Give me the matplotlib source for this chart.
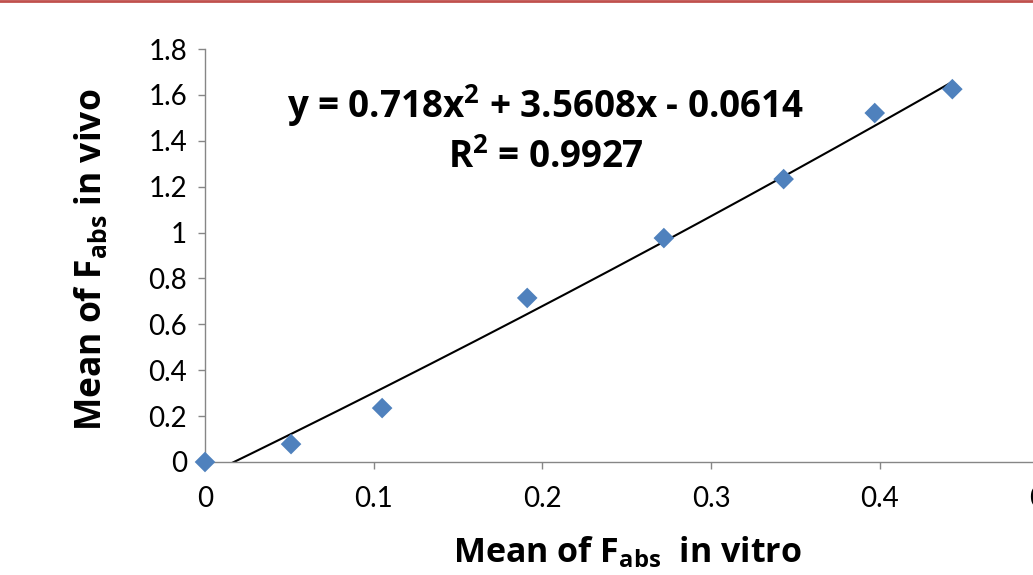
import numpy as np
import matplotlib.pyplot as plt
from matplotlib.lines import Line2D

# values
fabs_vitro = [0.0, 0.051, 0.105, 0.191, 0.272, 0.343, 0.397, 0.443]
fabs_vivo = [0.0, 0.078, 0.235, 0.715, 0.976, 1.233, 1.521, 1.625]
# polynomial trendline coefficients as printed on the chart (a, b, c)
trend_coef = [0.718, 3.5608, -0.0614]
r_squared = 0.9927

x_ticks = [0, 0.1, 0.2, 0.3, 0.4, 0.5]
x_tick_labels = ["0", "0.1", "0.2", "0.3", "0.4", "0.5"]
y_ticks = [0, 0.2, 0.4, 0.6, 0.8, 1.0, 1.2, 1.4, 1.6, 1.8]
y_tick_labels = ["0", "0.2", "0.4", "0.6", "0.8", "1", "1.2", "1.4", "1.6", "1.8"]

plt.rcParams['font.family'] = ['Lato', 'DejaVu Sans']
plt.rcParams['mathtext.fontset'] = 'custom'
plt.rcParams['mathtext.rm'] = 'Open Sans'
plt.rcParams['mathtext.bf'] = 'Open Sans:bold'

W, H = 1033, 575
fig = plt.figure(figsize=(W / 100, H / 100), dpi=100)

# axes: x=0 at px 205, 0.5 at ~1048 (off the right edge); y=0 at px 462, 1.8 at px 49
left = 205 / W
bottom = (H - 462) / H
width = (1048.5 - 205) / W
height = (462 - 49) / H
ax = fig.add_axes([left, bottom, width, height])

ax.scatter(fabs_vitro, fabs_vivo, marker='D', s=10.5 ** 2, color='#4f81bd',
           edgecolors='none', zorder=3, clip_on=False)

xs = np.linspace(0, max(fabs_vitro), 200)
a, b, c = trend_coef
ax.plot(xs, a * xs ** 2 + b * xs + c, color='black', lw=1.5, zorder=2)

ax.set_xlim(0, 0.5)
ax.set_ylim(0, 1.8)
ax.set_xticks(x_ticks)
ax.set_xticklabels(x_tick_labels)
ax.set_yticks(y_ticks)
ax.set_yticklabels(y_tick_labels)

for side in ['top', 'right']:
    ax.spines[side].set_visible(False)
for side in ['left', 'bottom']:
    ax.spines[side].set_color('#868686')
    ax.spines[side].set_linewidth(1.0)
ax.tick_params(axis='both', direction='out', length=5, width=1.0,
               color='#868686', labelsize=20, labelcolor='black')
ax.tick_params(axis='x', pad=12)
ax.tick_params(axis='y', pad=8)

bold = dict(fontweight='bold', family=['Open Sans', 'DejaVu Sans'])

# trendline equation
fig.text(546 / W, 1 - 106 / H,
         rf"y = {trend_coef[0]}x$^{{\mathbf{{2}}}}$ + {trend_coef[1]}x - {abs(trend_coef[2])}",
         ha='center', va='center', fontsize=26.5, **bold)
fig.text(546 / W, 1 - 158 / H, rf"R$^{{\mathbf{{2}}}}$ = {r_squared}",
         ha='center', va='center', fontsize=26.5, **bold)

# axis titles
fig.text(627 / W, 1 - 552 / H, r"Mean of F$_{\mathbf{abs}}$  in vitro",
         ha='center', va='center', fontsize=24.5, **bold)
fig.text(92 / W, 1 - 260 / H, r"Mean of F$_{\mathbf{abs}}$ in vivo",
         ha='center', va='center', rotation=90, fontsize=25.5, **bold)

# thin red rule along the top edge
fig.add_artist(Line2D([0, 1], [1 - 1 / H, 1 - 1 / H], transform=fig.transFigure,
                      color='#c0504d', lw=2))

fig.savefig('out.png', dpi=100)
